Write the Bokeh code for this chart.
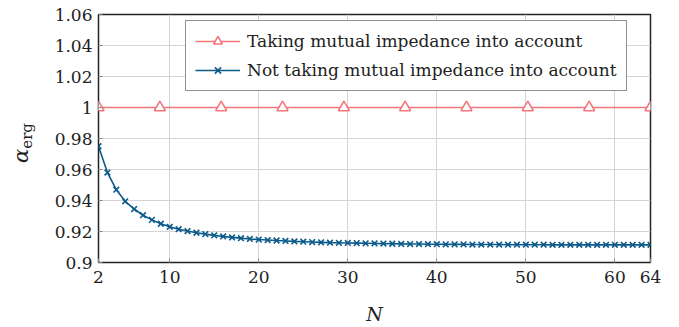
from bokeh.plotting import figure
from bokeh.layouts import row
from bokeh.models import (FixedTicker, CustomJSTickFormatter, Legend, LegendItem,
                          Range1d, Div)
from bokeh.embed import file_html
from bokeh.resources import INLINE

# Number of antennas N
n_values = [2, 3, 4, 5, 6, 7, 8, 9, 10, 11, 12, 13, 14, 15, 16, 17, 18, 19, 20,
            21, 22, 23, 24, 25, 26, 27, 28, 29, 30, 31, 32, 33, 34, 35, 36, 37,
            38, 39, 40, 41, 42, 43, 44, 45, 46, 47, 48, 49, 50, 51, 52, 53, 54,
            55, 56, 57, 58, 59, 60, 61, 62, 63, 64]

# Ergodic ratio when mutual impedance is ignored
alpha_without = [0.975, 0.958, 0.947, 0.9395, 0.9345, 0.9305, 0.9275, 0.925,
                 0.923, 0.9215, 0.9203, 0.9192, 0.9183, 0.9175, 0.9168, 0.9162,
                 0.9157, 0.9152, 0.9148, 0.9145, 0.9142, 0.9139, 0.9136, 0.9134,
                 0.9132, 0.9130, 0.9128, 0.9127, 0.9126, 0.9125, 0.9124, 0.9123,
                 0.9122, 0.9121, 0.9120, 0.9119, 0.9119, 0.9118, 0.9118, 0.9117,
                 0.9117, 0.9117, 0.9116, 0.9116, 0.9116, 0.9116, 0.9115, 0.9115,
                 0.9115, 0.9115, 0.9115, 0.9114, 0.9114, 0.9114, 0.9114, 0.9114,
                 0.9114, 0.9114, 0.9114, 0.9114, 0.9114, 0.9114, 0.9114]

# Ergodic ratio when mutual impedance is taken into account (marked samples)
n_with = [2, 8.89, 15.78, 22.67, 29.56, 36.44, 43.33, 50.22, 57.11, 64]
alpha_with = [1.0, 1.0, 1.0, 1.0, 1.0, 1.0, 1.0, 1.0, 1.0, 1.0]

x_ticks = [2, 10, 20, 30, 40, 50, 60, 64]
y_ticks = [0.9, 0.92, 0.94, 0.96, 0.98, 1.0, 1.02, 1.04, 1.06]

RED = "#F2777C"
BLUE = "#0B5A8A"
FONT = "DejaVu Serif"
INK = "#222222"
Y_MIN, Y_MAX = 0.9, 1.06

# Vertical y-axis title (italic alpha with an upright "erg" subscript),
# laid out as rotated HTML in a narrow column left of the plot
STRIP_W = 51
y_title = Div(
    width=STRIP_W, height=327, margin=0,
    styles={"overflow": "visible"},
    text=(
        '<div style="position:relative;width:51px;height:327px;">'
        '<div style="position:absolute;left:23px;top:143px;'
        'transform:translate(-50%,-50%) rotate(-90deg);white-space:nowrap;'
        "font-family:'DejaVu Serif',serif;color:#222222;line-height:1;\">"
        '<span style="font-style:italic;font-size:21px;">α</span>'
        '<span style="font-size:15px;vertical-align:-4px;">erg</span>'
        '</div></div>'
    ),
)

p = figure(frame_width=552, frame_height=248, output_backend="svg",
           toolbar_location=None, min_border_left=47, min_border_right=29,
           min_border_top=14, min_border_bottom=65,
           x_range=Range1d(2, 64), y_range=Range1d(Y_MIN, Y_MAX))

p.outline_line_color = INK
p.outline_line_width = 1.5
p.background_fill_color = "white"
p.border_fill_color = "white"

p.axis.axis_line_color = None
p.axis.major_tick_in = 4
p.axis.major_tick_out = 0
p.axis.minor_tick_line_color = None
p.axis.major_tick_line_color = "#888888"
p.axis.major_label_text_font = FONT
p.axis.major_label_text_font_size = "17px"
p.axis.major_label_text_color = INK

p.xaxis.ticker = FixedTicker(ticks=x_ticks)
p.yaxis.ticker = FixedTicker(ticks=y_ticks)
p.yaxis.formatter = CustomJSTickFormatter(code="""
    let s = tick.toFixed(2);
    s = s.replace(/0+$/, '').replace(/\\.$/, '');
    return s;
""")
p.xaxis.major_label_standoff = 8
p.yaxis.major_label_standoff = 6

p.xaxis.axis_label = "N"
p.xaxis.axis_label_text_font = FONT
p.xaxis.axis_label_text_font_style = "italic"
p.xaxis.axis_label_text_font_size = "19px"
p.xaxis.axis_label_text_color = INK
p.xaxis.axis_label_standoff = 17

p.grid.grid_line_color = "#d4d4d4"
p.grid.grid_line_width = 1
p.xgrid.ticker = FixedTicker(ticks=x_ticks)
p.ygrid.ticker = FixedTicker(ticks=y_ticks)

# Series with mutual impedance
r_line = p.line(n_with, alpha_with, line_color=RED, line_width=1.6)
r_mark = p.scatter(n_with, alpha_with, marker="triangle", size=11,
                   fill_color="white", line_color=RED, line_width=1.6)

# Series without mutual impedance
b_line = p.line(n_values, alpha_without, line_color=BLUE, line_width=1.6)
b_mark = p.scatter(n_values, alpha_without, marker="x", size=8,
                   line_color=BLUE, line_width=1.6)

legend = Legend(items=[
    LegendItem(label="Taking mutual impedance into account", renderers=[r_line, r_mark]),
    LegendItem(label="Not taking mutual impedance into account", renderers=[b_line, b_mark]),
], location=(87, 171))
legend.label_text_font = FONT
legend.label_text_font_size = "17px"
legend.label_text_color = INK
legend.glyph_width = 45
legend.glyph_height = 22
legend.label_height = 22
legend.label_standoff = 7
legend.spacing = 7
legend.padding = 9
legend.margin = 0
legend.border_line_color = INK
legend.border_line_width = 1.5
legend.background_fill_alpha = 1.0
p.add_layout(legend)

layout = row(y_title, p, spacing=0)
open("out.html", "w").write(file_html(layout, INLINE))
